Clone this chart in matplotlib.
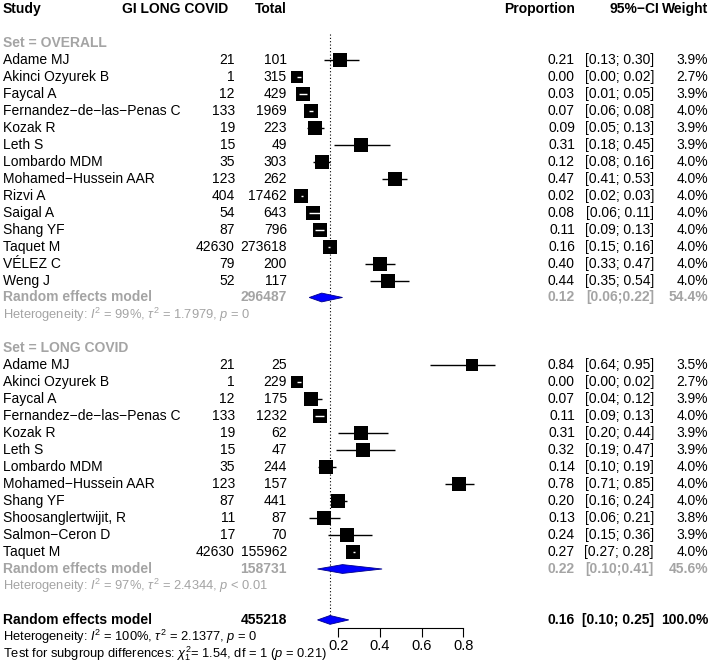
import matplotlib
matplotlib.use('Agg')
from matplotlib import pyplot as plt
from matplotlib import patches, transforms

plt.rcParams['font.family'] = ['Liberation Sans', 'DejaVu Sans']
plt.rcParams['mathtext.fontset'] = 'custom'
plt.rcParams['mathtext.rm'] = 'Liberation Sans'
plt.rcParams['mathtext.it'] = 'Liberation Sans:italic'
plt.rcParams['mathtext.bf'] = 'Liberation Sans:bold'

# ---- data -------------------------------------------------------------
overall_studies = ['Adame MJ', 'Akinci Ozyurek B', 'Faycal A', 'Fernandez\u2212de\u2212las\u2212Penas C',
                   'Kozak R', 'Leth S', 'Lombardo MDM', 'Mohamed\u2212Hussein AAR', 'Rizvi A',
                   'Saigal A', 'Shang YF', 'Taquet M', 'VÉLEZ C', 'Weng J']
overall_events = [21, 1, 12, 133, 19, 15, 35, 123, 404, 54, 87, 42630, 79, 52]
overall_total = [101, 315, 429, 1969, 223, 49, 303, 262, 17462, 643, 796, 273618, 200, 117]
overall_prop = [0.21, 0.00, 0.03, 0.07, 0.09, 0.31, 0.12, 0.47, 0.02, 0.08, 0.11, 0.16, 0.40, 0.44]
overall_lo = [0.13, 0.00, 0.01, 0.06, 0.05, 0.18, 0.08, 0.41, 0.02, 0.06, 0.09, 0.15, 0.33, 0.35]
overall_hi = [0.30, 0.02, 0.05, 0.08, 0.13, 0.45, 0.16, 0.53, 0.03, 0.11, 0.13, 0.16, 0.47, 0.54]
overall_weight = [3.9, 2.7, 3.9, 4.0, 3.9, 3.9, 4.0, 4.0, 4.0, 4.0, 4.0, 4.0, 4.0, 4.0]
overall_re = (296487, 0.12, 0.06, 0.22, 54.4, 'Heterogeneity: $I^2$ = 99%, $\\tau^2$ = 1.7979, $p$ = 0')

lc_studies = ['Adame MJ', 'Akinci Ozyurek B', 'Faycal A', 'Fernandez\u2212de\u2212las\u2212Penas C',
              'Kozak R', 'Leth S', 'Lombardo MDM', 'Mohamed\u2212Hussein AAR', 'Shang YF',
              'Shoosanglertwijit, R', 'Salmon\u2212Ceron D', 'Taquet M']
lc_events = [21, 1, 12, 133, 19, 15, 35, 123, 87, 11, 17, 42630]
lc_total = [25, 229, 175, 1232, 62, 47, 244, 157, 441, 87, 70, 155962]
lc_prop = [0.84, 0.00, 0.07, 0.11, 0.31, 0.32, 0.14, 0.78, 0.20, 0.13, 0.24, 0.27]
lc_lo = [0.64, 0.00, 0.04, 0.09, 0.20, 0.19, 0.10, 0.71, 0.16, 0.06, 0.15, 0.27]
lc_hi = [0.95, 0.02, 0.12, 0.13, 0.44, 0.47, 0.19, 0.85, 0.24, 0.21, 0.36, 0.28]
lc_weight = [3.5, 2.7, 3.9, 4.0, 3.9, 3.9, 4.0, 4.0, 4.0, 3.8, 3.9, 4.0]
lc_re = (158731, 0.22, 0.10, 0.41, 45.6, 'Heterogeneity: $I^2$ = 97%, $\\tau^2$ = 2.4344, $p$ < 0.01')

total_re = (455218, 0.16, 0.10, 0.25, 100.0)
total_het = 'Heterogeneity: $I^2$ = 100%, $\\tau^2$ = 2.1377, $p$ = 0'
subgroup_test = 'Test for subgroup differences: $\\chi^2_1$= 1.54, df = 1 ($p$ = 0.21)'
axis_ticks = [0.2, 0.4, 0.6, 0.8]

# ---- layout -----------------------------------------------------------
W, H = 712, 666
ZERO_PX = 296.7      # pixel of proportion 0
PX_PER_UNIT = 208.3  # pixels per proportion unit
ROW0_PX = 9.0
ROW_PX = 16.97
GRAY = '#a4a4a4'
FS = 10
FS_SMALL = 9.3

COL_STUDY = 3
COL_EVENTS = 235
COL_TOTAL = 287
COL_PROP = 575
COL_CI = 654
COL_WEIGHT = 708

fig = plt.figure(figsize=(W / 100, H / 100), dpi=100)
ax = fig.add_axes([0, 0, 1, 1])
ax.set_xlim(-ZERO_PX / PX_PER_UNIT, (W - ZERO_PX) / PX_PER_UNIT)
ax.set_ylim((H - ROW0_PX) / ROW_PX, -ROW0_PX / ROW_PX)
ax.axis('off')

tr = transforms.blended_transform_factory(ax.transAxes, ax.transData)


def put(col_px, row, s, ha='right', color='black', weight='normal', size=FS):
    ax.text(col_px / W, row, s, transform=tr, ha=ha, va='center',
            color=color, fontweight=weight, fontsize=size)


def square(row, est, lo, hi, w):
    side_px = 13.5 * (w / 4.0) ** 0.5
    half = side_px / 2 / PX_PER_UNIT
    inside = lo >= est - half and hi <= est + half
    if not inside:
        ax.plot([lo, hi], [row, row], color='black', lw=1, zorder=2, solid_capstyle='butt')
    ax.plot([est], [row], marker='s', ms=side_px * 72 / 100, color='black',
            markeredgewidth=0, zorder=3)
    if inside:
        ax.plot([lo, hi], [row, row], color='white', lw=1, zorder=4, solid_capstyle='butt')


def diamond(row, est, lo, hi):
    h = 0.26
    poly = patches.Polygon([(lo, row), (est, row - h), (hi, row), (est, row + h)],
                           closed=True, facecolor='#0000ff', edgecolor='#00008b',
                           lw=0.6, zorder=3)
    ax.add_patch(poly)


# header
put(COL_STUDY, 0, 'Study', ha='left', weight='bold')
put(228, 0, 'GI LONG COVID', weight='bold')
put(COL_TOTAL, 0, 'Total', weight='bold')
put(COL_PROP, 0, 'Proportion', weight='bold')
put(659, 0, '95%\u2212CI', weight='bold')
put(COL_WEIGHT, 0, 'Weight', weight='bold')


def subgroup(start, title, studies, events, total, prop, lo, hi, weight, re):
    put(COL_STUDY, start, title, ha='left', color=GRAY, weight='bold')
    for i, name in enumerate(studies):
        r = start + 1 + i
        put(COL_STUDY, r, name, ha='left')
        put(COL_EVENTS, r, str(events[i]))
        put(COL_TOTAL, r, str(total[i]))
        put(COL_PROP, r, f'{prop[i]:.2f}')
        put(COL_CI, r, f'[{lo[i]:.2f}; {hi[i]:.2f}]')
        put(COL_WEIGHT, r, f'{weight[i]:.1f}%')
        square(r, prop[i], lo[i], hi[i], weight[i])
    r = start + 1 + len(studies)
    n, est, l, h, w, het = re
    put(COL_STUDY, r, 'Random effects model', ha='left', color=GRAY, weight='bold')
    put(COL_TOTAL, r, str(n), color=GRAY, weight='bold')
    put(COL_PROP, r, f'{est:.2f}', color=GRAY, weight='bold')
    put(COL_CI, r, f'[{l:.2f};{h:.2f}]', color=GRAY, weight='bold')
    put(COL_WEIGHT, r, f'{w:.1f}%', color=GRAY, weight='bold')
    diamond(r, est, l, h)
    put(COL_STUDY, r + 1, het, ha='left', color=GRAY, size=FS_SMALL)
    return r + 3


nxt = subgroup(2, 'Set = OVERALL', overall_studies, overall_events, overall_total,
               overall_prop, overall_lo, overall_hi, overall_weight, overall_re)
nxt = subgroup(nxt, 'Set = LONG COVID', lc_studies, lc_events, lc_total,
               lc_prop, lc_lo, lc_hi, lc_weight, lc_re)

# overall random effects
n, est, l, h, w = total_re
r = nxt
put(COL_STUDY, r, 'Random effects model', ha='left', weight='bold')
put(COL_TOTAL, r, str(n), weight='bold')
put(COL_PROP, r, f'{est:.2f}', weight='bold')
put(COL_CI, r, f'[{l:.2f}; {h:.2f}]', weight='bold')
put(COL_WEIGHT, r, f'{w:.1f}%', weight='bold')
diamond(r, est, l, h)
put(COL_STUDY, r + 1, total_het, ha='left', size=FS_SMALL)
put(COL_STUDY, r + 2, subgroup_test, ha='left', size=FS_SMALL)

# reference line at pooled estimate
ax.vlines(est, 1.5, r, colors='black', linestyles=(0, (1, 2)), lw=0.8, zorder=1)

# x scale
axis_y = 1 - 628 / H
sx = fig.add_axes([0, axis_y, 1, 0.01], sharex=ax)
sx.patch.set_visible(False)
for s in ['top', 'left', 'right']:
    sx.spines[s].set_visible(False)
sx.spines['bottom'].set_bounds(axis_ticks[0], axis_ticks[-1])
sx.spines['bottom'].set_linewidth(0.8)
sx.set_yticks([])
sx.set_xticks(axis_ticks)
sx.set_xticklabels([f'{t:.1f}' for t in axis_ticks])
sx.tick_params(axis='x', direction='out', length=6.5, width=0.8, pad=1.5, labelsize=10.5)

fig.savefig('out.png', dpi=100)
